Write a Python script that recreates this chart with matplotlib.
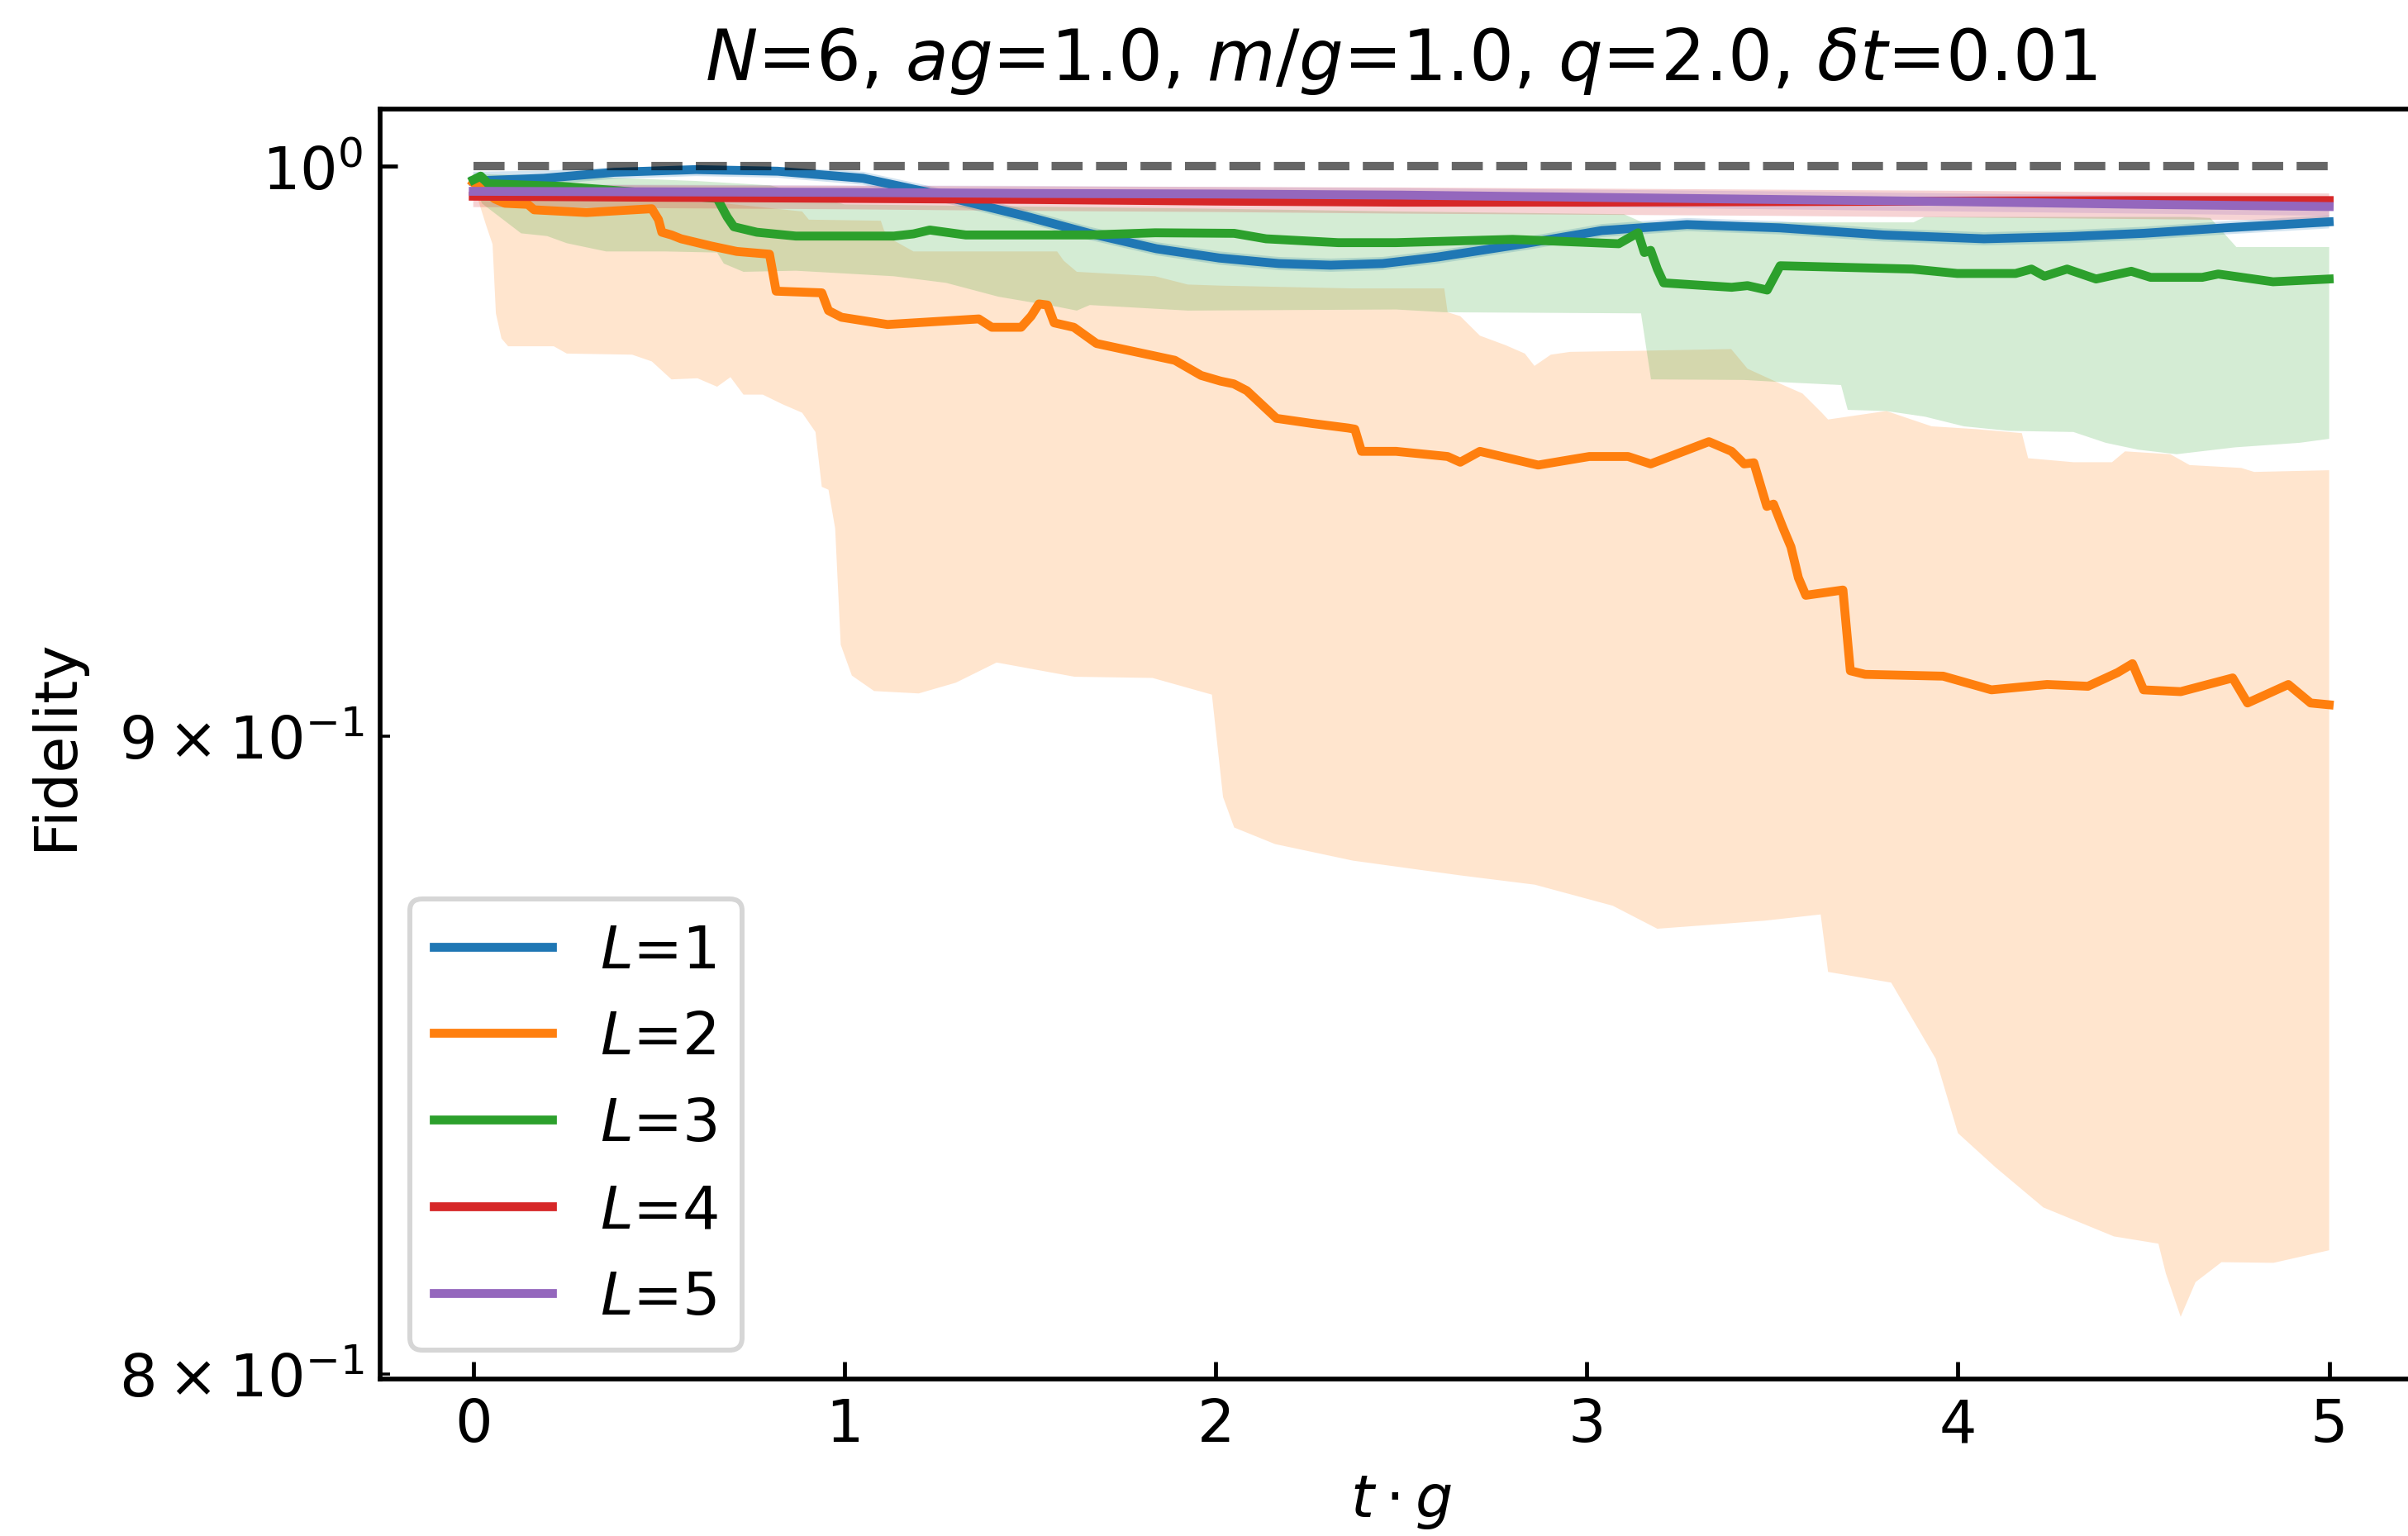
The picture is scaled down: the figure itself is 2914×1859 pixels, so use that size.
"""Fidelity of the variational time evolution for several circuit depths."""

import matplotlib
import numpy as np

matplotlib.use("Agg")
import matplotlib.pyplot as plt


DPI = 430
TITLE = r"$N$=6, $ag$=1.0, $m/g$=1.0, $q$=2.0, $\delta t$=0.01"
LABELS = [r"$L$=1", r"$L$=2", r"$L$=3", r"$L$=4", r"$L$=5"]
REFERENCE = 1.0

# L=1
blue_t = [0.0, 0.19, 0.38, 0.6, 0.82, 1.05, 1.22, 1.49, 1.66, 1.84, 2.01, 2.17, 2.31, 2.45, 2.6,
          2.84, 3.04, 3.27, 3.52, 3.8, 4.07, 4.3, 4.5, 4.72, 5.0]
blue_f = [0.9973, 0.9978, 0.9989, 0.9994, 0.9991, 0.9978, 0.9953, 0.9908, 0.9877, 0.9849, 0.9832,
          0.9822, 0.9819, 0.9822, 0.9834, 0.9859, 0.9882, 0.9893, 0.9887, 0.9874, 0.9867, 0.9871,
          0.9877, 0.9887, 0.9898]
blue_hi = [0.9990, 0.9992, 0.9998, 1.0000, 0.9999, 0.9990, 0.9965, 0.9920, 0.9889, 0.9861, 0.9844,
           0.9834, 0.9831, 0.9834, 0.9846, 0.9871, 0.9894, 0.9905, 0.9899, 0.9886, 0.9879, 0.9883,
           0.9889, 0.9899, 0.9910]
blue_lo = [0.9962, 0.9966, 0.9977, 0.9982, 0.9979, 0.9966, 0.9941, 0.9896, 0.9865, 0.9837, 0.9820,
           0.9810, 0.9807, 0.9810, 0.9822, 0.9847, 0.9870, 0.9881, 0.9875, 0.9862, 0.9855, 0.9859,
           0.9865, 0.9875, 0.9886]

# L=2
orange_t = [0.0, 0.03, 0.058, 0.085, 0.147, 0.164, 0.305, 0.481, 0.499, 0.508, 0.534, 0.56, 0.64,
            0.71, 0.798, 0.816, 0.939, 0.957, 0.992, 1.116, 1.362, 1.397, 1.476, 1.503, 1.524,
            1.547, 1.565, 1.618, 1.679, 1.749, 1.89, 1.961, 2.013, 2.049, 2.084, 2.164, 2.26,
            2.357, 2.375, 2.393, 2.486, 2.625, 2.659, 2.712, 2.869, 3.007, 3.111, 3.172, 3.329,
            3.39, 3.424, 3.45, 3.485, 3.503, 3.529, 3.55, 3.57, 3.59, 3.69, 3.71, 3.75, 3.96,
            4.09, 4.24, 4.35, 4.43, 4.47, 4.50, 4.60, 4.74, 4.78, 4.89, 4.95, 5.0]
orange_f = [0.9970, 0.9955, 0.9940, 0.9932, 0.9930, 0.9920, 0.9915, 0.9922, 0.9902, 0.9879, 0.9874,
            0.9867, 0.9854, 0.9844, 0.9839, 0.9772, 0.9769, 0.9737, 0.9725, 0.9712, 0.9722, 0.9707,
            0.9707, 0.9727, 0.9749, 0.9747, 0.9715, 0.9707, 0.9678, 0.9668, 0.9648, 0.9621, 0.9611,
            0.9606, 0.9594, 0.9545, 0.9536, 0.9528, 0.9526, 0.9487, 0.9487, 0.9478, 0.9468, 0.9487,
            0.9463, 0.9478, 0.9478, 0.9465, 0.9504, 0.9487, 0.9465, 0.9467, 0.9391, 0.9395, 0.9353,
            0.9321, 0.9268, 0.9238, 0.9247, 0.9110, 0.9104, 0.9101, 0.9078, 0.9087, 0.9084, 0.9107,
            0.9122, 0.9078, 0.9075, 0.9098, 0.9056, 0.9087, 0.9056, 0.9053]
orange_hi_t = [0.0, 0.076, 0.43, 0.675, 0.886, 0.904, 1.098, 1.107, 1.133, 1.186, 1.573, 1.591,
               1.626, 1.837, 1.925, 2.013, 2.366, 2.616, 2.625, 2.659, 2.712, 2.781, 2.833, 2.859,
               2.903, 2.955, 3.146, 3.389, 3.433, 3.529, 3.581, 3.633, 3.65, 3.807, 3.929, 4.05,
               4.172, 4.189, 4.311, 4.415, 4.45, 4.572, 4.624, 4.763, 4.798, 5.0]
orange_hi = [0.9975, 0.9948, 0.9937, 0.9932, 0.9917, 0.9902, 0.9900, 0.9882, 0.9864, 0.9844,
             0.9844, 0.9827, 0.9807, 0.9799, 0.9784, 0.9782, 0.9777, 0.9777, 0.9734, 0.9727,
             0.9692, 0.9675, 0.9660, 0.9638, 0.9658, 0.9663, 0.9665, 0.9668, 0.9633, 0.9604,
             0.9589, 0.9555, 0.9543, 0.9558, 0.9531, 0.9526, 0.9519, 0.9475, 0.9468, 0.9468,
             0.9487, 0.9482, 0.9463, 0.9458, 0.9451, 0.9454]
orange_lo_t = [0.0, 0.016, 0.034, 0.052, 0.061, 0.076, 0.094, 0.217, 0.252, 0.428, 0.481, 0.534,
               0.604, 0.657, 0.693, 0.728, 0.78, 0.833, 0.886, 0.922, 0.939, 0.957, 0.975, 0.99,
               1.02, 1.08, 1.2, 1.3, 1.41, 1.62, 1.83, 1.99, 2.02, 2.05, 2.16, 2.37, 2.66, 2.86,
               3.07, 3.19, 3.28, 3.48, 3.63, 3.65, 3.82, 3.94, 4.0, 4.1, 4.23, 4.42, 4.54, 4.56,
               4.60, 4.64, 4.71, 4.85, 5.0]
orange_lo = [0.9970, 0.9932, 0.9893, 0.9857, 0.9732, 0.9687, 0.9673, 0.9673, 0.9660, 0.9658,
             0.9646, 0.9614, 0.9616, 0.9601, 0.9618, 0.9587, 0.9587, 0.9570, 0.9555, 0.9521,
             0.9425, 0.9420, 0.9353, 0.9154, 0.9102, 0.9076, 0.9072, 0.9090, 0.9124, 0.9100,
             0.9098, 0.9070, 0.8900, 0.8850, 0.8823, 0.8796, 0.8772, 0.8757, 0.8723, 0.8686,
             0.8690, 0.8699, 0.8709, 0.8617, 0.8600, 0.8480, 0.8364, 0.8312, 0.8250, 0.8206,
             0.8195, 0.8150, 0.8085, 0.8137, 0.8167, 0.8166, 0.8185]

# L=3
green_t = [0.0, 0.02, 0.04, 0.24, 0.657, 0.684, 0.702, 0.764, 0.869, 1.133, 1.186, 1.23, 1.327,
           1.661, 1.837, 2.05, 2.136, 2.33, 2.486, 2.80, 3.086, 3.138, 3.155, 3.172, 3.19, 3.207,
           3.39, 3.433, 3.486, 3.521, 3.877, 3.998, 4.155, 4.198, 4.233, 4.294, 4.372, 4.467,
           4.519, 4.658, 4.701, 4.849, 5.0]
green_f = [0.9975, 0.9982, 0.9968, 0.9963, 0.9941, 0.9907, 0.9889, 0.9879, 0.9872, 0.9872, 0.9876,
           0.9883, 0.9874, 0.9874, 0.9878, 0.9877, 0.9867, 0.9860, 0.9860, 0.9866, 0.9858, 0.9878,
           0.9842, 0.9846, 0.9812, 0.9787, 0.9779, 0.9782, 0.9774, 0.9818, 0.9812, 0.9804, 0.9804,
           0.9812, 0.9799, 0.9812, 0.9794, 0.9808, 0.9797, 0.9797, 0.9803, 0.9789, 0.9794]
green_hi_t = [0.0, 0.3, 0.6, 0.8, 1.0, 1.5, 2.0, 2.49, 3.1, 3.15, 3.88, 3.91, 4.62, 4.68, 4.75, 5.0]
green_hi = [0.9986, 0.9981, 0.9973, 0.9965, 0.9930, 0.9926, 0.9922, 0.9917, 0.9912, 0.9897,
            0.9897, 0.9907, 0.9907, 0.9905, 0.9852, 0.9852]
green_lo_t = [0.0, 0.023, 0.129, 0.199, 0.252, 0.358, 0.516, 0.657, 0.675, 0.728, 0.869, 1.133,
              1.274, 1.415, 1.573, 1.626, 1.661, 1.925, 2.486, 2.616, 3.146, 3.173, 3.424, 3.529,
              3.685, 3.703, 3.807, 3.911, 4.016, 4.137, 4.311, 4.398, 4.485, 4.589, 4.746, 4.92, 5.0]
green_lo = [0.9978, 0.9932, 0.9877, 0.9872, 0.9859, 0.9844, 0.9844, 0.9842, 0.9822, 0.9807,
            0.9809, 0.9799, 0.9787, 0.9762, 0.9744, 0.9737, 0.9747, 0.9737, 0.9739, 0.9734,
            0.9732, 0.9614, 0.9613, 0.9609, 0.9604, 0.9560, 0.9558, 0.9548, 0.9531, 0.9523,
            0.9521, 0.9502, 0.9490, 0.9482, 0.9494, 0.9502, 0.9509]

# L=4 and L=5 share one time grid
deep_t = [0.0, 0.5, 1.0, 1.5, 2.0, 2.5, 3.0, 3.5, 4.0, 4.5, 5.0]
red_f = [0.9945, 0.9943, 0.9941, 0.9939, 0.9936, 0.9934, 0.9934, 0.9935, 0.9936, 0.9937, 0.9937]
red_hi = [0.9966, 0.9965, 0.9964, 0.9963, 0.9962, 0.9961, 0.9959, 0.9957, 0.9955, 0.9952, 0.9950]
red_lo = [0.9925, 0.9923, 0.9921, 0.9918, 0.9916, 0.9913, 0.9911, 0.9909, 0.9906, 0.9903, 0.9900]
purple_f = [0.9954, 0.9953, 0.9952, 0.9950, 0.9949, 0.9947, 0.9943, 0.9939, 0.9935, 0.9930, 0.9926]
purple_hi = [0.9967, 0.9966, 0.9965, 0.9964, 0.9962, 0.9960, 0.9957, 0.9954, 0.9950, 0.9946, 0.9942]
purple_lo = [0.9938, 0.9937, 0.9935, 0.9933, 0.9931, 0.9929, 0.9925, 0.9921, 0.9917, 0.9913, 0.9909]


def _band(axis, t_hi, f_hi, t_lo, f_lo, color) -> None:
    xs = np.r_[t_hi, t_lo[::-1]]
    ys = np.r_[f_hi, f_lo[::-1]]
    axis.fill(xs, ys, color=color, alpha=0.2, linewidth=0)


def main() -> None:
    plt.rcParams.update({
        "font.size": 12,
        "xtick.direction": "in",
        "ytick.direction": "in",
        "axes.linewidth": 0.95,
    })
    colors = plt.rcParams["axes.prop_cycle"].by_key()["color"]

    figure = plt.figure(figsize=(2914 / DPI, 1860 / DPI), dpi=DPI)
    axis = figure.add_axes([0.158, 0.1019, 0.8478, 0.8268])

    lines = [
        (blue_t, blue_f, blue_t, blue_hi, blue_t, blue_lo),
        (orange_t, orange_f, orange_hi_t, orange_hi, orange_lo_t, orange_lo),
        (green_t, green_f, green_hi_t, green_hi, green_lo_t, green_lo),
        (deep_t, red_f, deep_t, red_hi, deep_t, red_lo),
        (deep_t, purple_f, deep_t, purple_hi, deep_t, purple_lo),
    ]
    for (t, f, th, fh, tl, fl), color in zip(lines, colors):
        _band(axis, th, fh, tl, fl, color)
    for (t, f, *_), color, label in zip(lines, colors, LABELS):
        axis.plot(t, f, color=color, linewidth=1.8, label=label)

    axis.hlines(REFERENCE, blue_t[0], blue_t[-1], colors="k", alpha=0.6,
                linestyles="--", linewidth=1.7)

    axis.set_yscale("log")
    axis.set_xlim(-0.25, 5.25)
    axis.set_ylim(0.7992, 1.0107)
    axis.set_xlabel(r"$t \cdot g$")
    axis.set_ylabel("Fidelity", labelpad=7)
    axis.set_title(TITLE, fontsize=14.2)
    axis.legend(loc="lower left")

    figure.savefig("out.png", dpi=DPI, facecolor="white")
    plt.close(figure)


if __name__ == "__main__":
    main()
